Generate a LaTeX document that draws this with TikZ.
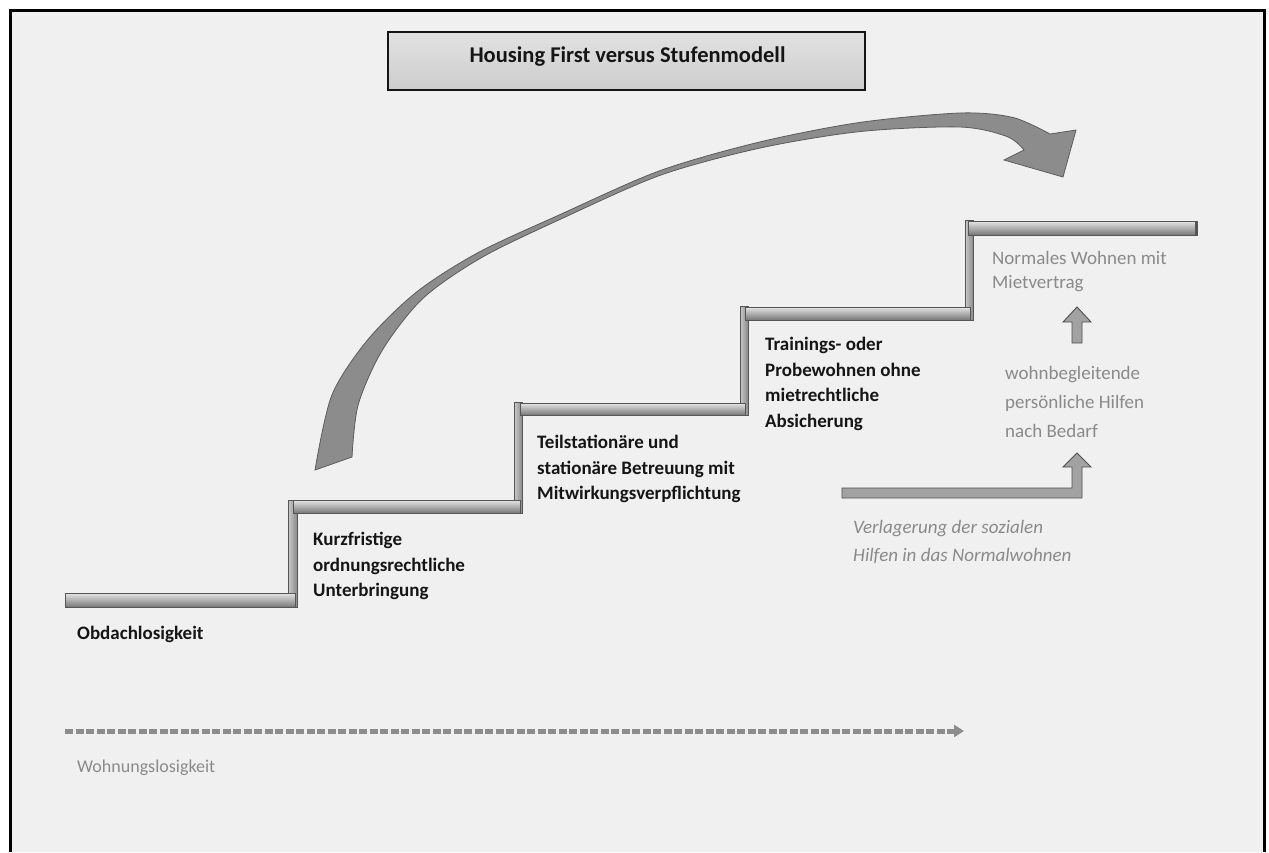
\documentclass[tikz,border=0pt]{standalone}
\usepackage{fontspec}
\setmainfont{Carlito}
\usetikzlibrary{arrows.meta}
\definecolor{bg}{HTML}{F0F0F0}
\definecolor{ink}{HTML}{151515}
\definecolor{greytxt}{HTML}{8A8A8A}
\definecolor{curvefill}{HTML}{8C8C8C}
\definecolor{curveedge}{HTML}{5C5C5C}
\definecolor{treadtop}{HTML}{E6E6E6}
\definecolor{treadbot}{HTML}{777777}
\definecolor{riserl}{HTML}{CACACA}
\definecolor{riserr}{HTML}{8A8A8A}
\definecolor{stepedge}{HTML}{555555}
\definecolor{blockfill}{HTML}{A2A2A2}
\definecolor{blockedge}{HTML}{505050}
\definecolor{dashgrey}{HTML}{8C8C8C}
\definecolor{titletop}{HTML}{E2E2E2}
\definecolor{titlebot}{HTML}{CCCCCC}
\begin{document}
\begin{tikzpicture}[x=1pt,y=-1pt,
  tread/.style={top color=treadtop, bottom color=treadbot, draw=stepedge, line width=0.8pt},
  riser/.style={left color=riserl, right color=riserr, draw=stepedge, line width=0.8pt},
  blockarrow/.style={fill=blockfill, draw=blockedge, line width=0.9pt},
  steplabel/.style={anchor=west, align=left, inner sep=0pt, text=ink, font=\bfseries\fontsize{19}{25.5}\selectfont},
  greylabel/.style={anchor=west, align=left, inner sep=0pt, text=greytxt}
]
\useasboundingbox (0,0) rectangle (1269,852);
\fill[white] (0,0) rectangle (1269,852);
\fill[bg] (10,10) rectangle (1264,852);
\draw[line width=3pt, black] (10,852) -- (10,10) -- (1264,10) -- (1264,852);

% title
\node[draw=ink, line width=2pt, top color=titletop, bottom color=titlebot,
      minimum width=477pt, minimum height=58pt, inner sep=0pt] (titlebox) at (626.5,61) {};
\node[inner sep=0pt, font=\bfseries\fontsize{22.5}{26}\selectfont, text=ink] (title) at (627.5,56.5)
      {Housing First versus Stufenmodell};

% big curved arrow (Housing First)
\filldraw[fill=curvefill, draw=curveedge, line width=0.8pt]
  plot[smooth, tension=0.5] coordinates {(315,470) (331.8,395.3) (367.7,339.8) (417.1,291.6) (478.5,252.4) (559.1,215) (659.3,170.9) (759.3,142.1) (859.4,122.5) (960,113) (1013,117.5) (1050,134)}
  -- (1076,130) -- (1063,177) -- (1004,160)
  -- plot[smooth, tension=0.5] coordinates {(1024,150) (1007,136.5) (960,127) (860.6,131.5) (760.7,147.9) (660.7,175.1) (560.9,219) (481.5,257.6) (422.9,298.4) (382.3,350.2) (358.2,404.7) (352,457)}
  -- cycle;

% risers
\path[riser] (288,500) rectangle (297,607);
\path[riser] (514,402) rectangle (522,513);
\path[riser] (740,306) rectangle (748,415);
\path[riser] (965,220) rectangle (973,320);
% treads
\path[tread] (65,593) rectangle (295,607);
\path[tread] (293,500) rectangle (520,513);
\path[tread] (520,403) rectangle (745,415);
\path[tread] (745,307) rectangle (970,320);
\path[tread] (968,221) rectangle (1197,235);
\draw[line width=2pt, stepedge] (1196,221) -- (1196,235);

% step labels
\node[steplabel] (obd) at (77,634) {Obdachlosigkeit};
\node[steplabel] (kurz) at (313,566) {Kurzfristige\\ordnungsrechtliche\\Unterbringung};
\node[steplabel] (teil) at (537,469) {Teilstationäre und\\stationäre Betreuung mit\\Mitwirkungsverpflichtung};
\node[steplabel] (train) at (765,384) {Trainings- oder\\Probewohnen ohne\\mietrechtliche\\Absicherung};
\node[greylabel, font=\fontsize{19}{24}\selectfont] (norm) at (992,272) {Normales Wohnen mit\\Mietvertrag};
\node[greylabel, font=\fontsize{19}{29}\selectfont] (wohn) at (1005,402) {wohnbegleitende\\persönliche Hilfen\\nach Bedarf};
\node[greylabel, font=\itshape\fontsize{19}{28}\selectfont] (verl) at (853,542) {Verlagerung der sozialen\\Hilfen in das Normalwohnen};
\node[greylabel, font=\fontsize{18}{22}\selectfont] (wlos) at (77,768) {Wohnungslosigkeit};

% small up arrow
\filldraw[blockarrow] (1072,343) -- (1072,322) -- (1063,322) -- (1077,307) -- (1091,322) -- (1082,322) -- (1082,343) -- cycle;
% bent arrow
\filldraw[blockarrow] (842,488) -- (1072,488) -- (1072,467) -- (1063,467) -- (1077,453) -- (1091,467) -- (1082,467) -- (1082,498) -- (842,498) -- cycle;

% dashed time arrow
\coordinate (ds) at (65,731);
\coordinate (de) at (964,731);
\draw[dashgrey, line width=5pt, dash pattern=on 8pt off 2.5pt, -{Triangle[length=10pt,width=12pt]}] (ds) -- (de);
\end{tikzpicture}
\end{document}
